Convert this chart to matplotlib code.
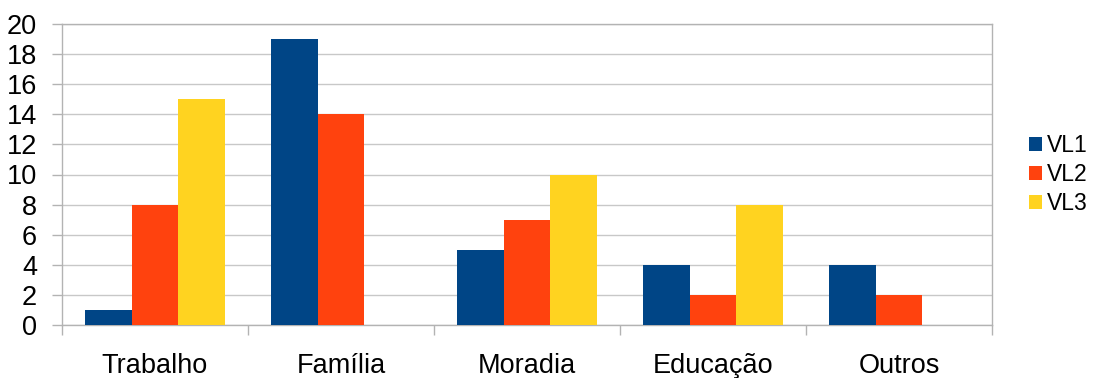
import matplotlib
matplotlib.use("Agg")
import matplotlib.pyplot as plt
import numpy as np

categories = ["Trabalho", "Família", "Moradia", "Educação", "Outros"]
series_names = ["VL1", "VL2", "VL3"]
vl1 = [1, 19, 5, 4, 4]
vl2 = [8, 14, 7, 2, 2]
vl3 = [15, 0, 10, 8, 0]
colors = ["#004586", "#ff420e", "#ffd320"]
y_ticks = [0, 2, 4, 6, 8, 10, 12, 14, 16, 18, 20]

plt.rcParams["font.family"] = ["Liberation Sans", "DejaVu Sans"]
FS = 19.5
LEG_FS = 16.5

fig = plt.figure(figsize=(10.93, 3.78), dpi=100)
ax = fig.add_axes([62 / 1093, 1 - 325 / 378, (992 - 62) / 1093, (325 - 24) / 378])

x = np.arange(len(categories))
width = 0.25
for i, (vals, name) in enumerate(zip([vl1, vl2, vl3], series_names)):
    ax.bar(x + (i - 1) * width, vals, width, color=colors[i], label=name, zorder=3)

ax.set_xlim(-0.5, len(categories) - 0.5)
ax.set_ylim(0, 20)
ax.set_yticks(y_ticks)
ax.set_yticklabels([str(t) for t in y_ticks], fontsize=FS)
ax.yaxis.grid(True, color="#c8c8c8", linewidth=1, zorder=0)

ax.set_xticks(np.arange(len(categories) + 1) - 0.5)
ax.set_xticklabels([])
ax.set_xticks(x, minor=True)
ax.set_xticklabels(categories, minor=True, fontsize=FS)
ax.tick_params(axis="x", which="minor", length=0, pad=20)
ax.tick_params(axis="x", which="major", length=7, color="#b3b3b3", width=1)
ax.tick_params(axis="y", length=7, color="#b3b3b3", width=1, pad=11)

for side in ["left", "right", "top", "bottom"]:
    ax.spines[side].set_color("#b3b3b3")
    ax.spines[side].set_linewidth(1)

ax.legend(loc="center left", bbox_to_anchor=(1.04, 0.5), frameon=False,
          fontsize=LEG_FS, handlelength=0.57, handleheight=0.57, handletextpad=0.22,
          labelspacing=0.25, borderaxespad=0, borderpad=0)

fig.savefig("out.png", dpi=100)
